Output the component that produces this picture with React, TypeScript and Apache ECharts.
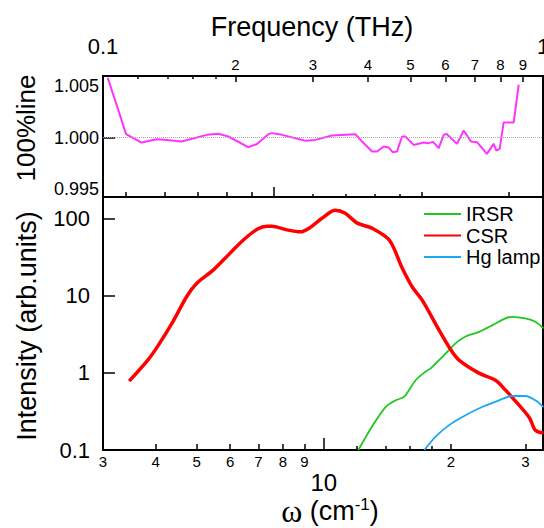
import React, { useEffect, useRef } from 'react';
import * as echarts from 'echarts';

// ---------- axes: ticks and labels ----------
const thzRange = [0.1, 1];
const thzMajorTicks = [0.2, 0.3, 0.4, 0.5, 0.6, 0.7, 0.8, 0.9];
const thzMajorLabels = ['2', '3', '4', '5', '6', '7', '8', '9'];
const thzMinorTicks = [0.12, 0.14, 0.16, 0.18];
const thzEndValues = [0.1, 1];
const thzEndLabels = ['0.1', '1'];

const upperRange = [4.49, 35.2];
const upperMidTicks = [5, 6, 7, 8, 9, 20, 30];
const upperDecadeTicks = [10];
const upperFineTicks = [12, 14, 16, 18];

const omegaRange = [3, 33.04];
const omegaTicks = [4, 5, 6, 7, 8, 9, 20, 30];
const omegaLabelValues = [3, 4, 5, 6, 7, 8, 9, 20, 30];
const omegaLabels = ['3', '4', '5', '6', '7', '8', '9', '2', '3'];
const omegaDecadeTicks = [10];
const omegaDecadeLabels = ['10'];
const omegaFineTicks = [12, 14, 16, 18];

const ratioRange = [0.9942, 1.006];
const ratioTicks = [1.0];
const ratioLabelValues = [0.995, 1.0, 1.005];
const ratioLabels = ['0.995', '1.000', '1.005'];

const intensityRange = [0.1, 188.6];
const intensityTicks = [1, 10, 100];
const intensityLabelValues = [0.1, 1, 10, 100];
const intensityLabels = ['0.1', '1', '10', '100'];

// ---------- data ----------
const ratioFreq = [0.1025, 0.1083, 0.1128, 0.1224, 0.1324, 0.1395, 0.1509, 0.1633, 0.1721, 0.1828, 0.1927, 0.2138, 0.2235, 0.2375, 0.2421, 0.2552, 0.2883, 0.3038, 0.3315, 0.3745, 0.3878, 0.4088, 0.4196, 0.4345, 0.446, 0.4554, 0.4658, 0.4781, 0.4864, 0.5083, 0.5356, 0.5498, 0.5623, 0.5794, 0.5947, 0.6028, 0.6375, 0.6603, 0.686, 0.7079, 0.7457, 0.7727, 0.7832, 0.7972, 0.814, 0.8579, 0.8807];
const ratioValue = [1.00582, 1.00271, 1.00033, 0.99951, 0.99984, 0.99977, 0.99961, 1.0, 1.00026, 1.00036, 1.0001, 0.99906, 0.99935, 1.00033, 1.00043, 1.00026, 0.99968, 0.99977, 1.0002, 1.00033, 0.99961, 0.99863, 0.99863, 0.99912, 0.99902, 0.99857, 0.99863, 1.0001, 1.0001, 0.99928, 0.99951, 0.99945, 0.99958, 0.99896, 1.00026, 1.00036, 0.99938, 1.00069, 0.99961, 0.99955, 0.9984, 0.99938, 0.99873, 0.99889, 1.00147, 1.00147, 1.00516];

const irsrOmega = [12.07, 13.0, 14.0, 14.8, 15.5, 16.5, 17.4, 17.9, 19.1, 19.8, 20.5, 21.6, 23.3, 25.1, 26.9, 27.9, 30.0, 31.7, 33.1];
const irsrI = [0.1, 0.2, 0.36, 0.44, 0.49, 0.8, 1.03, 1.14, 1.61, 1.97, 2.4, 2.92, 3.39, 4.14, 5.06, 5.3, 5.06, 4.57, 3.75];

const csrOmega = [3.46, 3.83, 4.03, 4.39, 4.74, 5.01, 5.47, 6.0, 6.44, 6.95, 7.34, 7.54, 8.14, 8.79, 9.23, 9.9, 10.64, 11.24, 12.0, 13.0, 14.3, 15.3, 16.2, 17.1, 18.75, 20.0, 20.9, 23.3, 25.5, 26.9, 29.0, 30.7, 31.7, 33.1];
const csrI = [0.78, 1.46, 2.15, 4.57, 9.8, 14.5, 21.3, 35.4, 52, 72, 79, 79, 71.3, 66.7, 74.5, 100, 127, 116, 86.5, 74.5, 52, 23.3, 12.9, 8.7, 3.56, 1.97, 1.46, 0.99, 0.8, 0.6, 0.38, 0.26, 0.18, 0.166];

const hgOmega = [17.3, 18.4, 19.8, 21.6, 23.7, 26.0, 27.9, 30.0, 31.7, 33.1];
const hgI = [0.1, 0.149, 0.21, 0.28, 0.36, 0.44, 0.5, 0.5, 0.44, 0.36];

// ---------- helpers ----------
const FONT = '"Liberation Sans", Arial, Helvetica, sans-serif';
const SERIF = '"Liberation Serif", "DejaVu Serif", serif';
const L = (v: number) => Math.log10(v);

function pickLabel(values: number[], labels: string[], v: number, log: boolean) {
  const i = values.findIndex((x) => Math.abs((log ? L(x) : x) - v) < 1e-7);
  return i >= 0 ? labels[i] : '';
}

function decoAxis(o: {
  gridIndex: number;
  position: string;
  range: number[];
  log?: boolean;
  ticks?: number[];
  tickLen?: number;
  labelValues?: number[];
  labels?: string[];
  fontSize?: number;
  margin?: number;
}) {
  const log = o.log !== false;
  const tf = (v: number) => (log ? L(v) : v);
  const ticks = o.ticks || [];
  const labelValues = o.labelValues || [];
  return {
    type: 'value',
    gridIndex: o.gridIndex,
    position: o.position,
    min: tf(o.range[0]),
    max: tf(o.range[1]),
    axisLine: { show: true, onZero: false, lineStyle: { color: '#000', width: 2 } },
    axisTick: {
      show: ticks.length > 0,
      inside: true,
      length: o.tickLen || 5,
      customValues: ticks.map(tf),
      lineStyle: { color: '#000', width: 1.5 },
    },
    axisLabel: {
      show: labelValues.length > 0,
      customValues: labelValues.map(tf),
      formatter: (v: number) => pickLabel(labelValues, o.labels || [], v, log),
      fontSize: o.fontSize || 15,
      margin: o.margin ?? 4,
      color: '#000',
      fontFamily: FONT,
      hideOverlap: false,
    },
    splitLine: { show: false },
    minorTick: { show: false },
  };
}

const option: any = {
  animation: false,
  backgroundColor: '#fff',
  textStyle: { fontFamily: FONT },
  grid: [
    { left: 103, top: 76, width: 440, height: 121, show: true, borderColor: '#000', borderWidth: 2, backgroundColor: 'transparent', containLabel: false, outerBoundsMode: 'none' },
    { left: 103, top: 197, width: 440, height: 253, show: true, borderColor: '#000', borderWidth: 2, backgroundColor: 'transparent', containLabel: false, outerBoundsMode: 'none' },
  ],
  xAxis: [
    decoAxis({ gridIndex: 0, position: 'top', range: thzRange, ticks: thzMajorTicks, tickLen: 6, labelValues: thzMajorTicks, labels: thzMajorLabels, fontSize: 15, margin: 4 }),
    decoAxis({ gridIndex: 0, position: 'top', range: thzRange, ticks: thzMinorTicks, tickLen: 3, labelValues: thzEndValues, labels: thzEndLabels, fontSize: 22, margin: 19 }),
    decoAxis({ gridIndex: 0, position: 'bottom', range: upperRange, ticks: upperMidTicks, tickLen: 5 }),
    decoAxis({ gridIndex: 0, position: 'bottom', range: upperRange, ticks: upperDecadeTicks, tickLen: 10 }),
    decoAxis({ gridIndex: 0, position: 'bottom', range: upperRange, ticks: upperFineTicks, tickLen: 3 }),
    decoAxis({ gridIndex: 1, position: 'bottom', range: omegaRange, ticks: omegaTicks, tickLen: 6, labelValues: omegaLabelValues, labels: omegaLabels, fontSize: 15, margin: 4 }),
    decoAxis({ gridIndex: 1, position: 'bottom', range: omegaRange, ticks: omegaDecadeTicks, tickLen: 12, labelValues: omegaDecadeTicks, labels: omegaDecadeLabels, fontSize: 24, margin: 20 }),
    decoAxis({ gridIndex: 1, position: 'bottom', range: omegaRange, ticks: omegaFineTicks, tickLen: 4 }),
  ],
  yAxis: [
    decoAxis({ gridIndex: 0, position: 'left', range: ratioRange, log: false, ticks: ratioTicks, tickLen: 12, labelValues: ratioLabelValues, labels: ratioLabels, fontSize: 18, margin: 4 }),
    decoAxis({ gridIndex: 1, position: 'left', range: intensityRange, ticks: intensityTicks, tickLen: 12, labelValues: intensityLabelValues, labels: intensityLabels, fontSize: 22, margin: 13 }),
  ],
  legend: {
    orient: 'vertical',
    left: 418,
    top: 199,
    itemWidth: 37,
    itemHeight: 14,
    itemGap: 1.5,
    itemStyle: { opacity: 0, borderWidth: 0 },
    textStyle: { fontSize: 20, color: '#000', fontFamily: FONT },
    data: ['IRSR', 'CSR', 'Hg lamp'],
  },
  graphic: [
    { type: 'text', x: 312, y: 27, style: { text: 'Frequency (THz)', font: '27px ' + FONT, fill: '#000', align: 'center', verticalAlign: 'middle' } },
    { type: 'text', x: 26, y: 128, rotation: Math.PI / 2, style: { text: '100%line', font: '26px ' + FONT, fill: '#000', align: 'center', verticalAlign: 'middle' } },
    { type: 'text', x: 27, y: 326, rotation: Math.PI / 2, style: { text: 'Intensity (arb.units)', font: '27px ' + FONT, fill: '#000', align: 'center', verticalAlign: 'middle' } },
    {
      type: 'text',
      x: 330,
      y: 511,
      style: {
        text: '{w|ω} {n|(cm}{s|-1}{n|)}',
        font: '27px ' + FONT,
        fill: '#000',
        align: 'center',
        verticalAlign: 'middle',
        rich: {
          w: { fontFamily: SERIF, fontSize: 32, lineHeight: 30, fill: '#000' },
          n: { fontFamily: FONT, fontSize: 27, lineHeight: 30, fill: '#000' },
          s: { fontFamily: FONT, fontSize: 17, lineHeight: 30, fill: '#000', verticalAlign: 'top' },
        },
      },
    },
  ],
  series: [
    {
      name: '100%line',
      type: 'line',
      xAxisIndex: 0,
      yAxisIndex: 0,
      symbol: 'none',
      lineStyle: { color: '#ff33ff', width: 2 },
      data: ratioFreq.map((f, i) => [L(f), ratioValue[i]]),
      markLine: {
        silent: true,
        symbol: ['none', 'none'],
        label: { show: false },
        lineStyle: { color: '#aaa', type: 'dotted', width: 1 },
        data: [{ yAxis: 1.0 }],
      },
      z: 3,
    },
    {
      name: 'IRSR',
      type: 'line',
      xAxisIndex: 5,
      yAxisIndex: 1,
      symbol: 'none',
      smooth: 0.3,
      color: '#1ec81e',
      lineStyle: { color: '#1ec81e', width: 1.8 },
      data: irsrOmega.map((w, i) => [L(w), L(irsrI[i])]),
    },
    {
      name: 'CSR',
      type: 'line',
      xAxisIndex: 5,
      yAxisIndex: 1,
      symbol: 'none',
      smooth: 0.3,
      color: '#ff0000',
      lineStyle: { color: '#ff0000', width: 3.5 },
      data: csrOmega.map((w, i) => [L(w), L(csrI[i])]),
    },
    {
      name: 'Hg lamp',
      type: 'line',
      xAxisIndex: 5,
      yAxisIndex: 1,
      symbol: 'none',
      smooth: 0.3,
      color: '#1aa8f2',
      lineStyle: { color: '#1aa8f2', width: 1.8 },
      data: hgOmega.map((w, i) => [L(w), L(hgI[i])]),
    },
  ],
};

export default function App() {
  const ref = useRef<HTMLDivElement>(null);
  useEffect(() => {
    if (!ref.current) return;
    const chart = echarts.init(ref.current, null, { renderer: 'svg' });
    chart.setOption(option);
    return () => chart.dispose();
  }, []);
  return (
    <div
      ref={ref}
      style={{ position: 'absolute', left: 0, top: 0, width: 544, height: 528, background: '#fff' }}
    />
  );
}
